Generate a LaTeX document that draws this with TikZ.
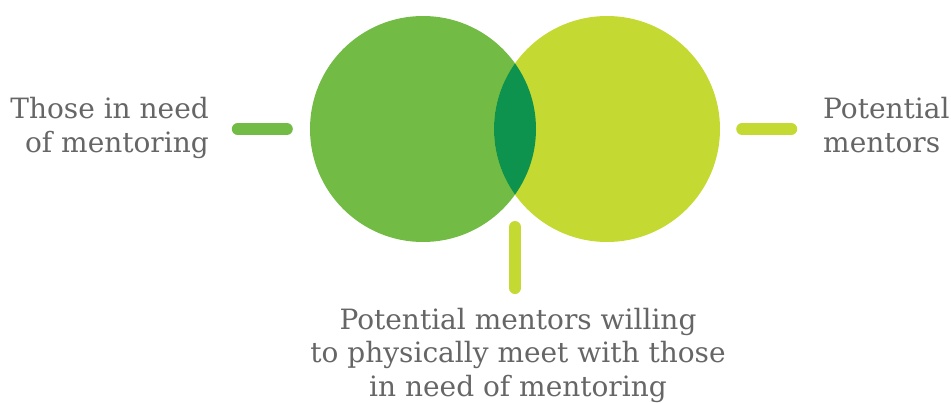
\documentclass[tikz,border=0pt]{standalone}
\usepackage{fontspec}
\setmainfont{DejaVu Serif}
\usetikzlibrary{positioning}
\definecolor{needgreen}{HTML}{72BB44}
\definecolor{mentorlime}{HTML}{C4D932}
\definecolor{overlapgreen}{HTML}{0E934F}
\definecolor{labelgray}{HTML}{666666}
\tikzset{
  set/.style={circle, minimum size=226pt, inner sep=0pt},
  tick/.style={line width=12pt, line cap=round},
  setlabel/.style={text=labelgray, font=\fontsize{28}{33.5}\selectfont, inner sep=0pt},
}
\begin{document}
\begin{tikzpicture}[x=1pt,y=-1pt]
\useasboundingbox (0,0) rectangle (951,402);
% the two sets
\node[set, fill=needgreen] (need) at (423,129) {};
\node[set, fill=mentorlime] (mentors) at (607,129) {};
\coordinate (overlap) at (515,129);
% overlap
\begin{scope}
\clip (need.center) circle [radius=113pt];
\fill[overlapgreen] (mentors.center) circle [radius=113pt];
\end{scope}
% ticks
\draw[tick, needgreen] ([xshift=-72pt]need.west) -- ([xshift=-23pt]need.west);
\draw[tick, mentorlime] ([xshift=22pt]mentors.east) -- ([xshift=71pt]mentors.east);
\draw[tick, mentorlime] ([yshift=-98pt]overlap) -- ([yshift=-159pt]overlap);
% labels
\node[setlabel, align=right, anchor=base east] (needlabel) at (209,152) {Those in need\\of mentoring};
\node[setlabel, align=left, anchor=base west] (mentorlabel) at (823,152) {Potential\\mentors};
\node[setlabel, align=center, anchor=base] (overlaplabel) at (518,396) {Potential mentors willing\\to physically meet with those\\in need of mentoring};
\end{tikzpicture}
\end{document}
